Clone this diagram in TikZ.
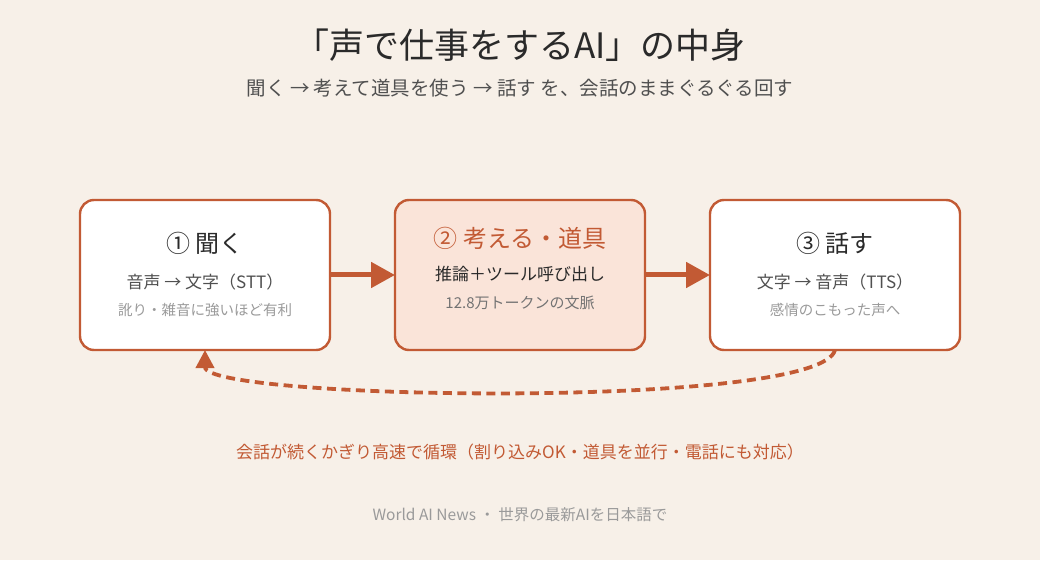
\documentclass[tikz,border=0pt]{standalone}
\usepackage{fontspec}
\setmainfont{Noto Sans CJK JP}
\usepackage{xcolor}
\usetikzlibrary{arrows.meta,positioning}
\definecolor{bgc}{HTML}{F7F0E8}
\definecolor{accc}{HTML}{C25A34}
\definecolor{peachc}{HTML}{FAE4D9}
\definecolor{inkc}{HTML}{2A2A2A}
\definecolor{midc}{HTML}{505050}
\definecolor{softc}{HTML}{9A9A9A}
\newcommand{\fs}[1]{\fontsize{#1}{#1}\selectfont}

\begin{document}
\begin{tikzpicture}[
    x=1pt, y=1pt,
    node distance=65pt,
    stepbox/.style={
      draw=accc, line width=2.4pt, rounded corners=14pt, fill=white,
      minimum width=250pt, minimum height=150pt, inner sep=0pt, outer sep=0pt},
    head/.style={font=\fs{24}, text=inkc, inner sep=0pt},
    sub/.style={font=\fs{17}, text=midc, inner sep=0pt},
    note/.style={font=\fs{14.5}, text=softc, inner sep=0pt},
    flow/.style={-{Triangle[length=24pt, width=25pt]}, line width=5pt, draw=accc},
    back/.style={-{Triangle[length=18pt, width=18pt]}, line width=3.8pt,
      draw=accc, dash pattern=on 9pt off 5.5pt}
  ]

  % --- canvas
  \path[use as bounding box, fill=bgc] (0,0) rectangle (1040,560);

  % --- heading
  \node[font=\fs{35}, text=inkc] (ttl) at (520,515) {「声で仕事をするAI」の中身};
  \node[font=\fs{19.5}, text=midc] (tag) at (520,472)
    {聞く → 考えて道具を使う → 話す を、会話のままぐるぐる回す};

  % --- stage 1
  \node[stepbox] (b1) at (205,285) {};
  \node[head] (h1) at ([yshift=32]b1.center) {① 聞く};
  \node[sub] (s1) at ([yshift=-7]b1.center) {音声 → 文字（STT）};
  \node[note] (n1) at ([yshift=-35]b1.center) {訛り・雑音に強いほど有利};

  % --- stage 2
  \node[stepbox, right=of b1, fill=peachc] (b2) {};
  \node[head, text=accc] (h2) at ([yshift=37]b2.center) {② 考える・道具};
  \node[sub, text=inkc] (s2) at ([yshift=1]b2.center) {推論＋ツール呼び出し};
  \node[note, font=\fs{15}, text=midc!80] (n2) at ([yshift=-28]b2.center) {12.8万トークンの文脈};

  % --- stage 3
  \node[stepbox, right=of b2] (b3) {};
  \node[head] (h3) at ([yshift=32]b3.center) {③ 話す};
  \node[sub] (s3) at ([yshift=-7]b3.center) {文字 → 音声（TTS）};
  \node[note] (n3) at ([yshift=-35]b3.center) {感情のこもった声へ};

  % --- flows
  \draw[flow] (b1) -- (b2);
  \draw[flow] (b2) -- (b3);
  \draw[back] (b3.south) .. controls (820,150) and (205,160) .. (b1.south);

  % --- notes
  \node[font=\fs{17}, text=accc] (loop) at (520,108)
    {会話が続くかぎり高速で循環（割り込みOK・道具を並行・電話にも対応）};
  \node[font=\fs{15.5}, text=softc] (foot) at (520,45)
    {World AI News ・ 世界の最新AIを日本語で};

\end{tikzpicture}
\end{document}
